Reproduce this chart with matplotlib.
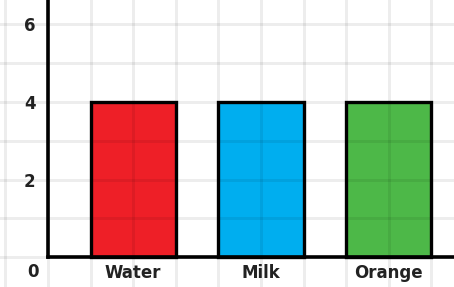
import matplotlib
matplotlib.use('Agg')
from matplotlib import pyplot as plt
from matplotlib.ticker import MultipleLocator

drinks = ['Water', 'Milk', 'Orange']
counts = [4, 4, 4]
bar_colors = ['#ee1f27', '#00aeef', '#4db848']
y_ticks = [2, 4, 6]

fig = plt.figure(figsize=(4.54, 2.87), dpi=100)
ax = fig.add_axes([0, 0, 1, 1])

pos = [2 + 3 * i for i in range(len(drinks))]
ax.bar(pos, counts, width=2, color=bar_colors, edgecolor='black',
       linewidth=2.4, zorder=1)

ax.set_xlim(-1.127, 9.53)
ax.set_ylim(-0.774, 6.632)

ax.xaxis.set_minor_locator(MultipleLocator(1))
ax.yaxis.set_minor_locator(MultipleLocator(1))
ax.set_xticks(pos)
ax.set_xticklabels(drinks)
ax.set_yticks(y_ticks)
ax.grid(which='both', color=(0, 0, 0, 0.07), linewidth=2.2)
ax.set_axisbelow(False)

ax.spines['top'].set_visible(False)
ax.spines['right'].set_visible(False)
ax.spines['left'].set_position(('data', 0))
ax.spines['bottom'].set_position(('data', 0))
ax.spines['left'].set_bounds(0, 6.632)
ax.spines['bottom'].set_bounds(0, 9.53)
for s in ['left', 'bottom']:
    ax.spines[s].set_linewidth(2.6)
    ax.spines[s].set_capstyle('projecting')
    ax.spines[s].set_zorder(3)

ax.tick_params(which='both', length=0)
ax.tick_params(axis='x', pad=5, labelsize=12, labelcolor='#222222')
ax.tick_params(axis='y', pad=9, labelsize=12, labelcolor='#222222')
for lab in ax.get_xticklabels() + ax.get_yticklabels():
    lab.set_fontweight('bold')

ax.text(-0.35, -0.39, '0', ha='center', va='center', fontsize=12,
        fontweight='bold', color='#222222')

plt.savefig('out.png', dpi=100)
